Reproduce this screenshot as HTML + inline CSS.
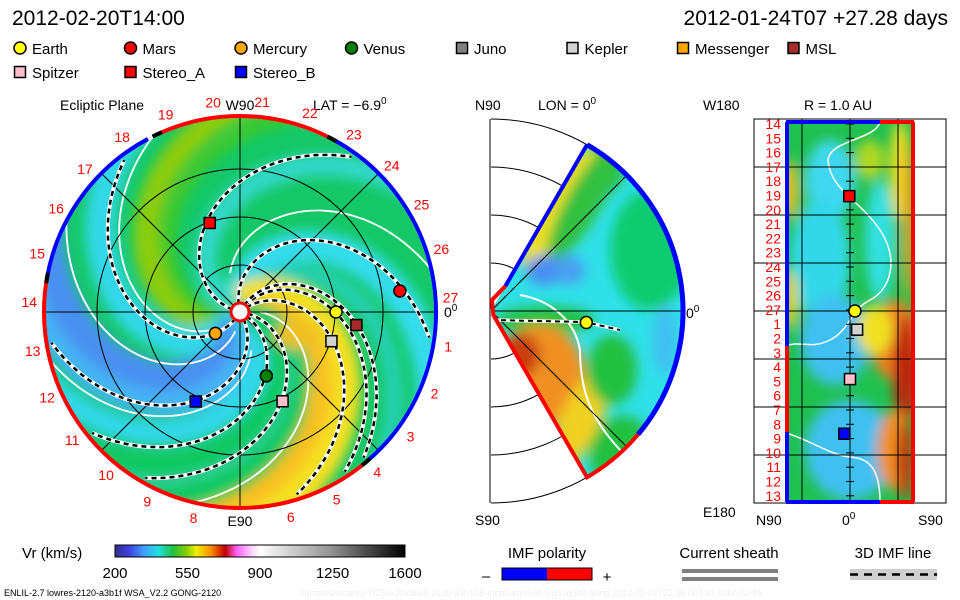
<!DOCTYPE html>
<html><head><meta charset="utf-8">
<style>
body{margin:0;background:#fff;}
svg{display:block;font-family:"Liberation Sans",sans-serif;}
</style></head>
<body>
<svg id="root" width="960" height="600" viewBox="0 0 960 600" xmlns="http://www.w3.org/2000/svg">
<defs>
<filter id="blur8" x="-20%" y="-20%" width="140%" height="140%"><feGaussianBlur stdDeviation="6"/></filter>
<filter id="blur6" x="-20%" y="-20%" width="140%" height="140%"><feGaussianBlur stdDeviation="6"/></filter>
<clipPath id="clipLeft"><circle cx="240" cy="312" r="194"/></clipPath>
<clipPath id="clipMid"><path id="wedgeClipPath" d=""/></clipPath>
<clipPath id="clipRight"><rect x="786" y="122" width="128" height="380"/></clipPath>
<linearGradient id="cbar" x1="0" x2="1" y1="0" y2="0">
<stop offset="0" stop-color="#303090"/><stop offset="0.05" stop-color="#4040e0"/>
<stop offset="0.1" stop-color="#40a0ff"/><stop offset="0.15" stop-color="#20e0e0"/>
<stop offset="0.2" stop-color="#20c040"/><stop offset="0.25" stop-color="#90d000"/>
<stop offset="0.28" stop-color="#f0f000"/><stop offset="0.33" stop-color="#ff9000"/>
<stop offset="0.38" stop-color="#c00000"/><stop offset="0.42" stop-color="#ff60ff"/>
<stop offset="0.47" stop-color="#ffd0ff"/><stop offset="0.5" stop-color="#ffffff"/>
<stop offset="0.75" stop-color="#909090"/><stop offset="1" stop-color="#000000"/>
</linearGradient>
</defs>

<text x="12" y="25" font-size="21">2012-02-20T14:00</text>
<text x="948" y="25" font-size="21" text-anchor="end">2012-01-24T07 +27.28 days</text>

<g id="legend"></g>

<text x="60" y="110" font-size="14">Ecliptic Plane</text>
<text x="313" y="110" font-size="14">LAT = −6.9<tspan dy="-6" font-size="10">0</tspan></text>
<text x="475" y="110" font-size="14">N90</text>
<text x="538" y="110" font-size="14">LON = 0<tspan dy="-6" font-size="10">0</tspan></text>
<text x="703" y="110" font-size="14">W180</text>
<text x="804" y="110" font-size="14">R = 1.0 AU</text>

<g id="left"></g>
<g id="mid"></g>
<g id="right"></g>

<g>
<text x="22" y="558" font-size="15">Vr (km/s)</text>
<rect x="115" y="545" width="290" height="12" fill="url(#cbar)" stroke="#000" stroke-width="1"/>
<g id="cbticks"></g>
</g>

<g>
<text x="547" y="558" font-size="15" text-anchor="middle">IMF polarity</text>
<rect x="502" y="568" width="45" height="12" fill="#0000ff"/>
<rect x="547" y="568" width="45" height="12" fill="#ff0000"/>
<rect x="502" y="568" width="90" height="12" fill="none" stroke="#000"/>
<text x="486" y="581" font-size="15" text-anchor="middle">–</text>
<text x="607" y="582" font-size="15" text-anchor="middle">+</text>
</g>
<g>
<text x="729" y="558" font-size="15" text-anchor="middle">Current sheath</text>
<rect x="682" y="569" width="96" height="4" fill="#808080"/>
<rect x="682" y="577" width="96" height="4" fill="#808080"/>
</g>
<g>
<text x="893" y="558" font-size="15" text-anchor="middle">3D IMF line</text>
<rect x="850" y="569" width="87" height="11" fill="#d0d0d0"/>
<line x1="850" y1="574.5" x2="937" y2="574.5" stroke="#000" stroke-width="2.5" stroke-dasharray="8 6"/>
</g>
<text x="4" y="596" font-size="9">ENLIL-2.7 lowres-2120-a3b1f WSA_V2.2 GONG-2120</text>
<text x="300" y="596" font-size="9" fill="#eeeeee">samples/wsadr2.7/256x30x90x1.2120-a3b1f.8-mcp1umn1cd-1.g53q5d2.gong-2012:01:09T22:36:00T00   2012-02-15</text>
</svg>

<script>
// ---------- data ----------
const bodyNames = ["Earth","Mars","Mercury","Venus","Kepler","MSL","Spitzer","Stereo_A","Stereo_B"];
const bodyRadiusAU = [1.00, 1.68, 0.34, 0.72, 1.00, 1.22, 1.03, 0.98, 1.04];
const bodyLonDeg = [0, 7.5, -139, -67.6, -17.7, -6.4, -64.5, 108.8, -116.3];
const bodyLatDeg = [-6.9, 1.5, 3, 2, -10, -3, 0, 1, 8];
const bodyFill = ["#ffff00","#ff0000","#ffa500","#008000","#d3d3d3","#a52a2a","#ffc0cb","#ff0000","#0000ff"];
const bodyShape = ["c","c","c","c","s","s","s","s","s"];

const legendNames = ["Earth","Mars","Mercury","Venus","Juno","Kepler","Messenger","MSL","Spitzer","Stereo_A","Stereo_B"];
const legendFill = ["#ffff00","#ff0000","#ffa500","#008000","#808080","#d3d3d3","#ffa500","#a52a2a","#ffc0cb","#ff0000","#0000ff"];
const legendShape = ["c","c","c","c","s","s","s","s","s","s","s"];

const cbTicks = [200, 550, 900, 1250, 1600];
const carringtonLabels = [14,15,16,17,18,19,20,21,22,23,24,25,26,27,1,2,3,4,5,6,7,8,9,10,11,12,13];
const ringLabelNums = [1,2,3,4,5,6,8,9,10,11,12,13,14,15,16,17,18,19,20,21,22,23,24,25,26,27];
const dashedPhi0 = [105, 167, 240, 302, 56, 332, 353, 40, 63];

// ---------- helpers ----------
const NS = "http://www.w3.org/2000/svg";
function mk(tag, attrs, parent){
  const e = document.createElementNS(NS, tag);
  for (const k in attrs) e.setAttribute(k, attrs[k]);
  parent.appendChild(e); return e;
}
const rad = d => d*Math.PI/180;

const LCX = 240, LCY = 312, LAU = 96;
function lx(rAU, lon){ return LCX + rAU*LAU*Math.cos(rad(lon)); }
function ly(rAU, lon){ return LCY - rAU*LAU*Math.sin(rad(lon)); }
const MCX = 491, MCY = 311, MAU = 96;
function mx(rAU, lat){ return MCX + rAU*MAU*Math.cos(rad(lat)); }
function my(rAU, lat){ return MCY - rAU*MAU*Math.sin(rad(lat)); }
function rxLat(lat){ return 850 - lat*(64/90); }
function ryLon(lon){ return 311 - lon*(380/360); }
function cbx(v){ return 115 + (v-200)/(1600-200)*290; }

const K = 0.59;
function spiralPath(phi0, r0, r1, cx, cy){
  let d = "";
  for (let r=r0; r<=r1; r+=3){
    const p = rad(phi0 - K*r);
    d += (d?"L":"M") + (cx + r*Math.cos(p)).toFixed(1) + " " + (cy - r*Math.sin(p)).toFixed(1);
  }
  return d;
}
function marker(parent, shape, x, y, fill, size, name){
  let e;
  if (shape==="c") e = mk("circle",{cx:x,cy:y,r:size/2+0.5,fill:fill,stroke:"#000","stroke-width":1.5},parent);
  else e = mk("rect",{x:x-size/2,y:y-size/2,width:size,height:size,fill:fill,stroke:"#000","stroke-width":1.5},parent);
  
  
  return e;
}
function arc(cx,cy,r,a0,a1){
  const x0=cx+r*Math.cos(rad(a0)), y0=cy-r*Math.sin(rad(a0));
  const x1=cx+r*Math.cos(rad(a1)), y1=cy-r*Math.sin(rad(a1));
  const large = Math.abs(a1-a0)>180?1:0;
  return `M${x0} ${y0}A${r} ${r} 0 ${large} 0 ${x1} ${y1}`;
}

// ---------- legend ----------
const lg = document.getElementById("legend");
legendNames.forEach((n,i)=>{
  const row = i<8 ? 0 : 1, col = i<8 ? i : i-8;
  const x = 20 + col*110.5, y = row ? 72 : 48;
  marker(lg, legendShape[i], x, y, legendFill[i], 11, "legend-marker-"+n.toLowerCase());
  const t = mk("text",{x:x+12,y:y+6,"font-size":15},lg);
  t.textContent = n;
  
  
});

// ---------- left panel ----------
const L = document.getElementById("left");
const lfield = mk("g",{"clip-path":"url(#clipLeft)"},L);
mk("circle",{cx:LCX,cy:LCY,r:196,fill:"#14c868"},lfield);
const lblur = mk("g",{filter:"url(#blur8)"},lfield);
const bands = [
  [100,30,"#34dcec"],[160,22,"#30d8c8"],[212,26,"#8ccc10"],[195,14,"#40c828"],[245,30,"#30d8e8"],
  [285,45,"#4890f0"],[300,25,"#44b4f4"],[322,25,"#30d8e8"],[75,18,"#28d0b0"],
  [33,52,"#f4e020"],[22,22,"#f8c020"],[5,20,"#10c860"],[352,18,"#30d0a0"],[345,20,"#10c860"]
];
bands.forEach(b=>mk("path",{d:spiralPath(b[0],5,240,LCX,LCY),stroke:b[2],"stroke-width":b[1],fill:"none"},lblur));
mk("ellipse",{cx:300,cy:335,rx:25,ry:14,fill:"#f0c020"},lblur);
const ws = [[232,30,200],[128,40,200],[268,20,200],[12,20,200],[310,40,200]];
ws.forEach(w=>mk("path",{d:spiralPath(w[0],w[1],w[2],LCX,LCY),stroke:"#fff","stroke-width":1.8,fill:"none"},lfield));
[0.49,0.99,1.49].forEach(r=>mk("circle",{cx:LCX,cy:LCY,r:r*LAU,fill:"none",stroke:"#000","stroke-width":1},lfield));
[0,45,90,135].forEach(a=>mk("line",{x1:lx(-2.05,a),y1:ly(-2.05,a),x2:lx(2.05,a),y2:ly(2.05,a),stroke:"#000","stroke-width":1},lfield));
dashedPhi0.forEach(p=>{
  const d = spiralPath(p,8,192,LCX,LCY);
  mk("path",{d:d,stroke:"#fff","stroke-width":4,fill:"none"},lfield);
  const e = mk("path",{d:d,stroke:"#000","stroke-width":2.5,fill:"none","stroke-dasharray":"5 4"},lfield);
  
  
});
const rimSegs = [[62,115,"#ff0000"],[-50,62,"#0000ff"],[-190,-50,"#ff0000"],[118,170,"#0000ff"]];
rimSegs.forEach(s=>mk("path",{d:arc(LCX,LCY,196,s[0],s[1]),stroke:s[2],"stroke-width":4,fill:"none"},L));
[62,115,-50,170].forEach(a=>mk("path",{d:arc(LCX,LCY,196,a-1.5,a+1.5),stroke:"#000","stroke-width":4,fill:"none"},L));
const sun = mk("circle",{cx:LCX,cy:LCY,r:9,fill:"#fff",stroke:"#ff0000","stroke-width":3},L);


ringLabelNums.forEach(k=>{
  const a = 4 + (27-k)*13.33;
  const t = mk("text",{x:LCX+211*Math.cos(rad(a)),y:LCY-211*Math.sin(rad(a))+5,"font-size":14,fill:"#ff0000","text-anchor":"middle"},L);
  t.textContent = k;
  
  
});
mk("text",{x:240,y:110,"font-size":14,"text-anchor":"middle"},L).textContent="W90";
mk("text",{x:240,y:526,"font-size":14,"text-anchor":"middle"},L).textContent="E90";
const z=mk("text",{x:444,y:317,"font-size":14},L); z.innerHTML='0<tspan dy="-6" font-size="10">0</tspan>';
bodyNames.forEach((n,i)=>{
  marker(L, bodyShape[i], lx(bodyRadiusAU[i],bodyLonDeg[i]), ly(bodyRadiusAU[i],bodyLonDeg[i]), bodyFill[i], 11, "ecliptic-"+n.toLowerCase());
});

// ---------- middle panel ----------
const M = document.getElementById("mid");
mk("line",{x1:490,y1:119,x2:490,y2:503,stroke:"#000"},M);
[0.5,1,1.5,2].forEach(r=>mk("path",{d:arc(MCX,MCY,r*MAU,90,-90).replace("0 0 0","0 0 1"),stroke:"#000",fill:"none","stroke-width":1},M));
const wedge = `M${mx(0.03,60)} ${my(0.03,60)}L${mx(2,60)} ${my(2,60)}A192 192 0 0 1 ${mx(2,-60)} ${my(2,-60)}L${mx(0.03,-60)} ${my(0.03,-60)}Z`;
document.getElementById("wedgeClipPath").setAttribute("d",wedge);
const mfield = mk("g",{"clip-path":"url(#clipMid)"},M);
mk("path",{d:wedge,fill:"#30e0e8"},mfield);
const mblur = mk("g",{filter:"url(#blur6)"},mfield);
[[600,170,25,25,"#20c050",0],[650,250,40,60,"#10cc70",0],[560,210,22,70,"#f0e020",30],[585,200,18,70,"#30c040",30],
 [545,270,20,15,"#4a8ef0",0],[570,270,15,15,"#4aa0f0",0],[545,320,50,14,"#20c040",0],
 [540,375,45,50,"#f09020",0],[520,355,20,22,"#c84010",0],[580,420,20,55,"#f0d020",25],[612,370,25,35,"#20c040",0],
 [620,450,30,35,"#20c040",25],[665,340,12,35,"#40c0f0",0],[680,240,15,50,"#10cc70",0]]
.forEach(e=>mk("ellipse",{cx:e[0],cy:e[1],rx:e[2],ry:e[3],fill:e[4],transform:`rotate(${e[5]} ${e[0]} ${e[1]})`},mblur));
mk("path",{d:"M520 295C550 300 575 320 580 350C580 390 590 420 625 455",stroke:"#fff","stroke-width":2,fill:"none"},mfield);
[0,45,-45].forEach(a=>mk("line",{x1:MCX,y1:MCY,x2:mx(2,a),y2:my(2,a),stroke:"#000"},mfield));
mk("path",{d:`M492 320L585 322L620 330`,stroke:"#fff","stroke-width":3.5,fill:"none"},mfield);
mk("path",{d:`M492 320L585 322L620 330`,stroke:"#000","stroke-width":2,"stroke-dasharray":"5 4",fill:"none"},mfield);
mk("path",{d:`M${mx(2,60)} ${my(2,60)}A192 192 0 0 1 ${mx(2,-40)} ${my(2,-40)}`,stroke:"#0000ff","stroke-width":5,fill:"none"},M);
mk("line",{x1:mx(0.3,60),y1:my(0.3,60),x2:mx(2,60),y2:my(2,60),stroke:"#0000ff","stroke-width":4},M);
mk("path",{d:`M${mx(2,-40)} ${my(2,-40)}A192 192 0 0 1 ${mx(2,-60)} ${my(2,-60)}L${mx(0.05,-60)} ${my(0.05,-60)}L492 300L${mx(0.3,60)} ${my(0.3,60)}`,stroke:"#ff0000","stroke-width":4,fill:"none"},M);
marker(M,"c",mx(bodyRadiusAU[0],bodyLatDeg[0]),my(bodyRadiusAU[0],bodyLatDeg[0]),bodyFill[0],11,"meridional-earth");
const z2=mk("text",{x:686,y:318,"font-size":14},M); z2.innerHTML='0<tspan dy="-6" font-size="10">0</tspan>';
mk("text",{x:475,y:525,"font-size":14},M).textContent="S90";

// ---------- right panel ----------
const R = document.getElementById("right");
mk("rect",{x:754,y:119,width:192,height:384,fill:"none",stroke:"#000"},R);
const rfield = mk("g",{"clip-path":"url(#clipRight)"},R);
mk("rect",{x:786,y:122,width:128,height:380,fill:"#20c050"},rfield);
const rblur = mk("g",{filter:"url(#blur6)"},rfield);
[[830,180,25,40,"#40d8f0"],[820,260,30,60,"#30d8e8"],[835,340,35,45,"#40c0f0"],[850,450,45,50,"#40c0f0"],
 [880,240,15,60,"#30e0e0"],[790,190,8,30,"#f0c020"],[790,300,8,30,"#e0d020"],[895,340,25,40,"#f08020"],
 [905,370,12,55,"#c02010"],[875,330,18,25,"#f0e020"],[900,170,10,50,"#f0e020"],[908,220,6,80,"#f0a020"],
 [895,450,18,40,"#f09020"],[905,460,8,40,"#c03010"],[870,160,15,20,"#b0d820"]]
.forEach(e=>mk("ellipse",{cx:e[0],cy:e[1],rx:e[2],ry:e[3],fill:e[4]},rblur));
mk("path",{d:"M880 122C875 140 830 140 828 160C830 190 860 200 880 230C900 260 890 290 870 300C850 310 850 330 830 340C810 350 800 340 786 346",stroke:"#fff","stroke-width":1.5,fill:"none"},rfield);
mk("path",{d:"M786 433C810 440 830 455 850 457C870 458 880 470 880 502",stroke:"#fff","stroke-width":1.5,fill:"none"},rfield);
[167,215,263,311,359,407,455].forEach(y=>mk("line",{x1:754,y1:y,x2:946,y2:y,stroke:"#000"},R));
[802,850,898].forEach(x=>mk("line",{x1:x,y1:119,x2:x,y2:503,stroke:"#000"},R));
mk("line",{x1:786,y1:122,x2:880,y2:122,stroke:"#0000ff","stroke-width":4},R);
mk("line",{x1:880,y1:122,x2:914,y2:122,stroke:"#ff0000","stroke-width":4},R);
mk("line",{x1:786,y1:502,x2:880,y2:502,stroke:"#0000ff","stroke-width":4},R);
mk("line",{x1:880,y1:502,x2:914,y2:502,stroke:"#ff0000","stroke-width":4},R);
mk("line",{x1:913,y1:122,x2:913,y2:502,stroke:"#ff0000","stroke-width":4},R);
mk("line",{x1:787,y1:122,x2:787,y2:346,stroke:"#0000ff","stroke-width":4},R);
mk("line",{x1:787,y1:346,x2:787,y2:432,stroke:"#ff0000","stroke-width":4},R);
mk("line",{x1:787,y1:432,x2:787,y2:502,stroke:"#0000ff","stroke-width":4},R);
carringtonLabels.forEach((k,i)=>{
  const y = 124 + i*14.3;
  const t = mk("text",{x:781,y:y+5,"font-size":14,fill:"#ff0000","text-anchor":"end"},R);
  t.textContent = k;
  
  
  mk("line",{x1:846,y1:y,x2:854,y2:y,stroke:"#000"},R);
});
bodyNames.forEach((n,i)=>{
  if (Math.abs(bodyRadiusAU[i]-1) < 0.1)
    marker(R, bodyShape[i], rxLat(bodyLatDeg[i]), ryLon(bodyLonDeg[i]), bodyFill[i], 11, "r1au-"+n.toLowerCase());
});
mk("text",{x:703,y:517,"font-size":14},R).textContent="E180";
mk("text",{x:756,y:525,"font-size":14},R).textContent="N90";
const z3=mk("text",{x:842,y:525,"font-size":14},R); z3.innerHTML='0<tspan dy="-6" font-size="10">0</tspan>';
mk("text",{x:918,y:525,"font-size":14},R).textContent="S90";

// ---------- colorbar ticks ----------
const cbt = document.getElementById("cbticks");
cbTicks.forEach(v=>{
  const t = mk("text",{x:cbx(v),y:578,"font-size":15,"text-anchor":"middle"},cbt);
  t.textContent = v;
  
  
});
</script>
</body></html>
